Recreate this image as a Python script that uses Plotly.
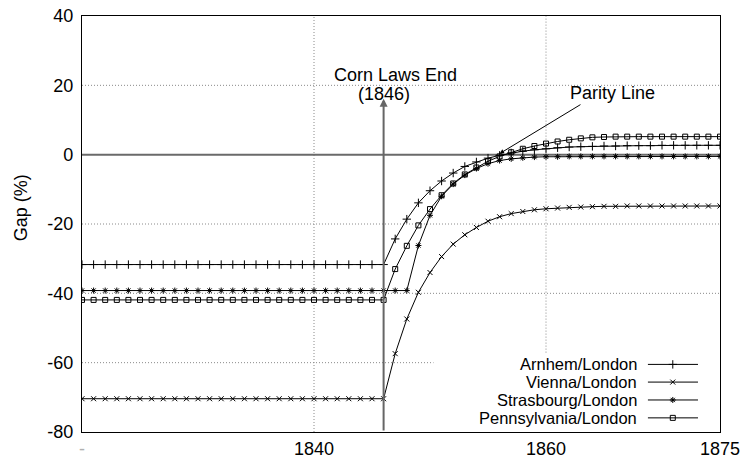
import plotly.graph_objects as go

# ---- data ----
years = list(range(1820, 1876))

arnhem = [
    -31.7, -31.7, -31.7, -31.7, -31.7, -31.7, -31.7, -31.7, -31.7, -31.7,   # 1820-1829
    -31.7, -31.7, -31.7, -31.7, -31.7, -31.7, -31.7, -31.7, -31.7, -31.7,   # 1830-1839
    -31.7, -31.7, -31.7, -31.7, -31.7, -31.7, -31.7,                        # 1840-1846
    -24.3, -18.6, -13.9, -10.4, -7.6, -5.3, -3.4, -2.1, -1.0, -0.2,         # 1847-1856
    0.5, 1.0, 1.4, 1.7, 2.0, 2.2, 2.3, 2.4, 2.5, 2.5,                       # 1857-1866
    2.6, 2.6, 2.6, 2.7, 2.7, 2.7, 2.7, 2.7, 2.7]                            # 1867-1875

vienna = [
    -70.4, -70.4, -70.4, -70.4, -70.4, -70.4, -70.4, -70.4, -70.4, -70.4,
    -70.4, -70.4, -70.4, -70.4, -70.4, -70.4, -70.4, -70.4, -70.4, -70.4,
    -70.4, -70.4, -70.4, -70.4, -70.4, -70.4, -70.4,
    -57.4, -47.4, -39.7, -34.0, -29.4, -25.8, -23.1, -21.0, -19.2, -17.9,
    -17.0, -16.4, -15.9, -15.6, -15.4, -15.2, -15.1, -15.0, -14.9, -14.9,
    -14.8, -14.8, -14.8, -14.8, -14.8, -14.8, -14.8, -14.8, -14.8]

strasbourg = [
    -39.2, -39.2, -39.2, -39.2, -39.2, -39.2, -39.2, -39.2, -39.2, -39.2,
    -39.2, -39.2, -39.2, -39.2, -39.2, -39.2, -39.2, -39.2, -39.2, -39.2,
    -39.2, -39.2, -39.2, -39.2, -39.2, -39.2, -39.2,
    -39.2, -39.2, -26.2, -17.5, -12.0, -8.5, -5.9, -4.0, -2.6, -1.7,
    -1.2, -0.9, -0.7, -0.6, -0.6, -0.5, -0.5, -0.5, -0.5, -0.5,
    -0.5, -0.5, -0.5, -0.5, -0.5, -0.5, -0.5, -0.5, -0.5]

pennsylvania = [
    -41.9, -41.9, -41.9, -41.9, -41.9, -41.9, -41.9, -41.9, -41.9, -41.9,
    -41.9, -41.9, -41.9, -41.9, -41.9, -41.9, -41.9, -41.9, -41.9, -41.9,
    -41.9, -41.9, -41.9, -41.9, -41.9, -41.9, -41.9,
    -33.0, -26.3, -20.4, -15.7, -11.7, -8.3, -5.7, -3.7, -1.9, -0.5,
    0.7, 1.7, 2.5, 3.2, 3.8, 4.3, 4.7, 5.0, 5.1, 5.2,
    5.2, 5.2, 5.2, 5.2, 5.2, 5.2, 5.2, 5.2, 5.2]

series_names = ["Arnhem/London", "Vienna/London", "Strasbourg/London", "Pennsylvania/London"]
series_values = [arnhem, vienna, strasbourg, pennsylvania]
series_symbols = ["cross-thin-open", "x-thin-open", "asterisk-open", "square-open"]
series_sizes = [6, 5, 5, 5]

x_tickvals = [1820, 1840, 1860, 1875]
x_ticktext = ["<span style='color:#b0b0b0'>-</span>", "1840", "1860", "1875"]
y_tickvals = [-80, -60, -40, -20, 0, 20, 40]
y_ticktext = ["-80", "-60", "-40", "-20", "0", "20", "40"]

FONT = "Liberation Sans, Arial, Helvetica, sans-serif"

fig = go.Figure()

for name, vals, sym, sz in zip(series_names, series_values, series_symbols, series_sizes):
    fig.add_trace(go.Scatter(
        x=years, y=vals, mode="lines+markers", name=name, showlegend=False,
        line=dict(color="black", width=1),
        marker=dict(symbol=sym, size=sz, color="black", line=dict(color="black", width=1)),
    ))

# ---- custom gnuplot-style key (text right, sample on the right) ----
key_rows = [0.1625, 0.120, 0.077, 0.034]
for name, sym, sz, yy in zip(series_names, series_symbols, series_sizes, key_rows):
    fig.add_trace(go.Scatter(
        x=[0.887, 0.9655], y=[yy, yy], mode="lines", xaxis="x2", yaxis="y2",
        line=dict(color="black", width=1), showlegend=False, hoverinfo="skip"))
    fig.add_trace(go.Scatter(
        x=[0.926], y=[yy], mode="markers", xaxis="x2", yaxis="y2",
        marker=dict(symbol=sym, size=sz, color="black", line=dict(color="black", width=1)),
        showlegend=False, hoverinfo="skip"))
    fig.add_annotation(xref="x2", yref="y2", x=0.8715, y=yy, text=name, showarrow=False,
                       xanchor="right", yanchor="middle", borderpad=0,
                       font=dict(size=16.5, color="black", family=FONT))

grid = dict(color="#8a8a8a", width=1, dash="1px,2px")
shapes = []
for gy in [20, -20, -40]:
    shapes.append(dict(type="line", xref="x", yref="y", x0=1820, x1=1875, y0=gy, y1=gy, line=grid, layer="below"))
shapes.append(dict(type="line", xref="x", yref="y", x0=1820, x1=1850.3, y0=-60, y1=-60, line=grid, layer="below"))
shapes.append(dict(type="line", xref="x", yref="y", x0=1840, x1=1840, y0=-80, y1=40, line=grid, layer="below"))
shapes.append(dict(type="line", xref="x", yref="y", x0=1860, x1=1860, y0=-57.1, y1=40, line=grid, layer="below"))
# zero axis
shapes.append(dict(type="line", xref="x", yref="y", x0=1820, x1=1875, y0=0, y1=0,
                   line=dict(color="#6a6a6a", width=2), layer="below"))

fig.update_layout(
    width=744, height=463,
    margin=dict(l=82, r=24, t=16, b=31, autoexpand=False),
    paper_bgcolor="white", plot_bgcolor="white",
    font=dict(family=FONT, size=18, color="black"),
    shapes=shapes,
    xaxis=dict(range=[1820, 1875], tickvals=x_tickvals, ticktext=x_ticktext,
               showgrid=False, zeroline=False, showline=True, mirror=True, automargin=False,
               linecolor="black", linewidth=1.2, ticks="", tickfont=dict(size=18)),
    yaxis=dict(range=[-80, 40], tickvals=y_tickvals, ticktext=y_ticktext, showgrid=False,
               zeroline=False, automargin=False,
               showline=True, mirror=True, linecolor="black", linewidth=1.2, ticks="",
               tickfont=dict(size=18), ticklabelstandoff=4),
    xaxis2=dict(range=[0, 1], overlaying="x", visible=False, fixedrange=True),
    yaxis2=dict(range=[0, 1], overlaying="y", visible=False, fixedrange=True),
)

# y axis title
fig.add_annotation(xref="paper", yref="paper", x=-0.0956, y=0.538, text="Gap (%)",
                   textangle=-90, showarrow=False, xanchor="center", yanchor="middle",
                   font=dict(size=18, family=FONT))

# Corn Laws arrow and label
fig.add_annotation(x=1846, y=16.1, ax=1846, ay=-80, xref="x", yref="y", axref="x", ayref="y",
                   text="", showarrow=True, arrowhead=2, arrowsize=0.8, arrowwidth=2,
                   arrowcolor="#666666", standoff=0)
fig.add_annotation(x=1847.0, y=23.1, text="Corn Laws End", showarrow=False,
                   xanchor="center", yanchor="middle", font=dict(size=18, family=FONT))
fig.add_annotation(x=1846.0, y=17.6, text="(1846)", showarrow=False,
                   xanchor="center", yanchor="middle", font=dict(size=18, family=FONT))

# Parity line arrow and label
fig.add_annotation(x=1856.0, y=0.3, ax=1863.1, ay=14.7, xref="x", yref="y", axref="x", ayref="y",
                   text="", showarrow=True, arrowhead=2, arrowsize=0.9, arrowwidth=1,
                   arrowcolor="black", standoff=0)
fig.add_annotation(x=1865.7, y=17.9, text="Parity Line", showarrow=False,
                   xanchor="center", yanchor="middle", font=dict(size=18, family=FONT))

fig.write_html(
    "out.html",
    config={"displayModeBar": False},
    post_script="document.body.style.margin='0';document.body.style.overflow='hidden';",
)
